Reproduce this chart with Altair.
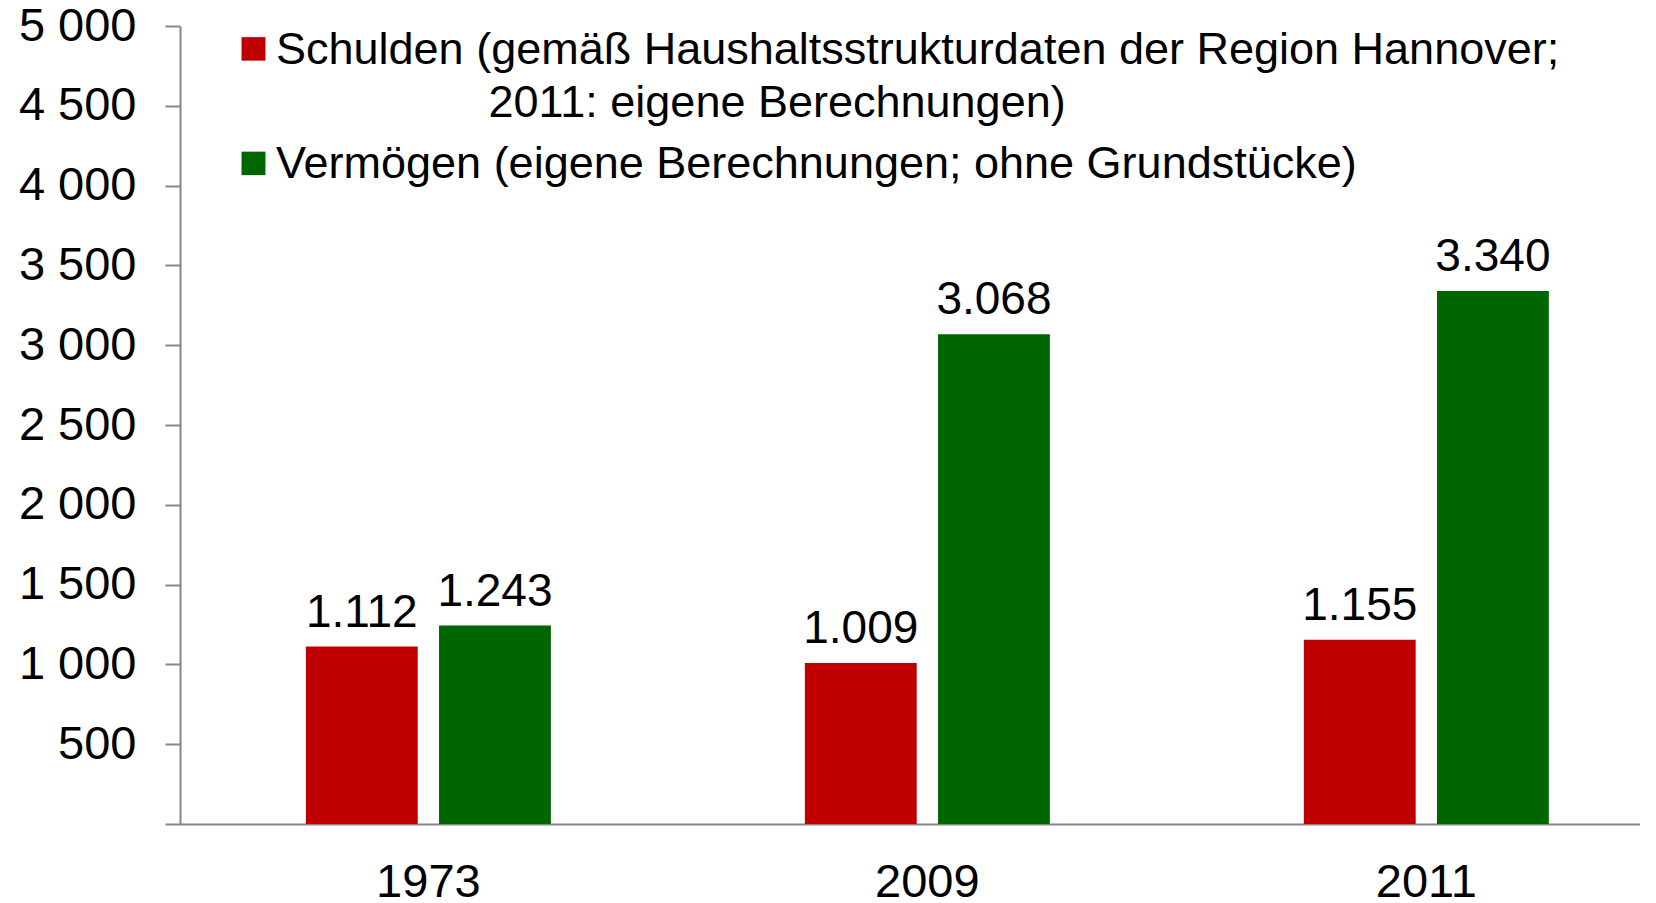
import altair as alt
import pandas as pd

years = ["1973", "2009", "2011"]
series = [
    "Schulden (gemäß Haushaltsstrukturdaten der Region Hannover;|\u200b" + "\u00a0" * 17 + "2011: eigene Berechnungen)",
    "Vermögen (eigene Berechnungen; ohne Grundstücke)",
]
schulden = [1112, 1009, 1155]
vermoegen = [1243, 3068, 3340]
y_ticks = [0, 500, 1000, 1500, 2000, 2500, 3000, 3500, 4000, 4500, 5000]
colors = ["#C00000", "#006600"]

rows = []
for i, y in enumerate(years):
    rows.append({"year": y, "series": series[0], "value": schulden[i]})
    rows.append({"year": y, "series": series[1], "value": vermoegen[i]})
df = pd.DataFrame(rows)

FONT = "Liberation Sans"
GRAY = "#868686"

base = alt.Chart(df).encode(
    x=alt.X(
        "year:N",
        sort=years,
        scale=alt.Scale(paddingInner=0.509, paddingOuter=0.2175, align=0.58),
        axis=alt.Axis(
            title=None, labelAngle=0, ticks=False, labelPadding=35,
            labelFontSize=47, labelFont=FONT, labelColor="black",
            domainColor=GRAY, domainWidth=2, labelBaseline="top",
        ),
    ),
    xOffset=alt.XOffset("series:N", sort=series,
                        scale=alt.Scale(paddingInner=0.16, paddingOuter=0)),
    y=alt.Y(
        "value:Q",
        scale=alt.Scale(domain=[0, 5000], nice=False),
        axis=alt.Axis(
            title=None, grid=False, values=y_ticks,
            labelExpr="datum.value == 0 ? '' : replace(format(datum.value, ','), ',', ' ')",
            tickSize=15, tickColor=GRAY, tickWidth=2,
            domainColor=GRAY, domainWidth=2,
            labelFontSize=47, labelFont=FONT, labelColor="black", labelPadding=29,
        ),
    ),
)

bars = base.mark_bar().encode(
    color=alt.Color(
        "series:N",
        sort=series,
        scale=alt.Scale(domain=series, range=colors),
        legend=alt.Legend(
            orient="none", legendX=51, legendY=15, title=None,
            symbolType="M-1.02,-2.243H1.02V-0.243H-1.02Z", symbolSize=552,
            symbolStrokeWidth=0, symbolOpacity=1,
            labelFont=FONT, labelFontSize=45,
            labelColor="black", labelLimit=0,
            labelBaseline="alphabetic", labelOffset=0, rowPadding=15.5,
            padding=0, labelExpr="split(datum.label, '|')",
        ),
    )
)

labels = base.mark_text(
    baseline="alphabetic", dy=-20, fontSize=46, font=FONT, color="black"
).transform_calculate(
    label="replace(format(datum.value, ','), ',', '.')"
).encode(text="label:N")

chart = alt.layer(bars, labels).properties(
    width=1460, height=798,
    padding={"left": 172, "top": 18, "right": 0, "bottom": 75},
    autosize=alt.AutoSizeParams(type="none"),
    background="white",
).configure(
    style={"guide-label": {"lineHeight": 53}}
).configure_view(strokeWidth=0, stroke="transparent")

chart.save("out.html", embed_options={"renderer": "svg", "actions": False})
